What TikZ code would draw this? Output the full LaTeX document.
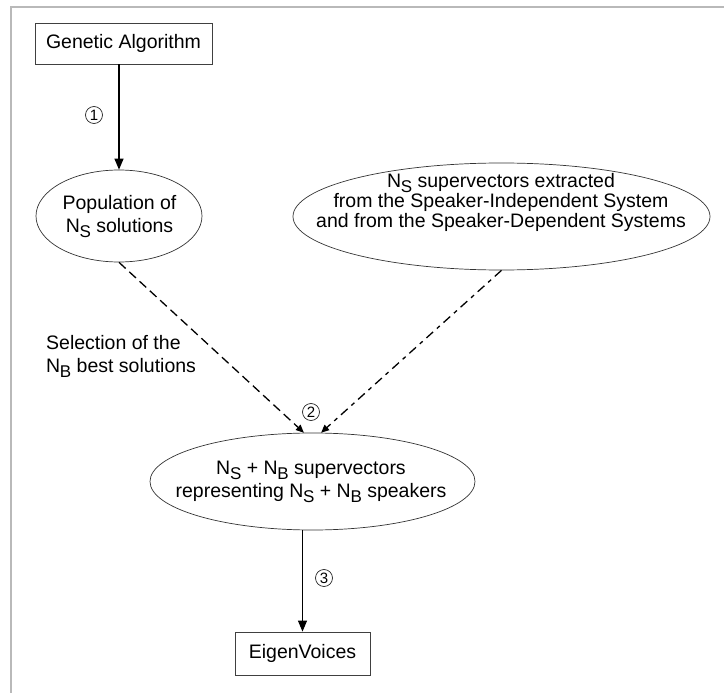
\documentclass[tikz,border=0pt]{standalone}
\usepackage{fontspec}
\setmainfont{Liberation Sans}
\usetikzlibrary{shapes.geometric,arrows.meta}
\newcommand\Nsb[1]{N\kern-0.3pt\raisebox{-5pt}{\fontsize{17}{17}\selectfont #1}}
\tikzset{
  txt/.style={font=\fontsize{19.5}{23}\selectfont, inner sep=0pt, align=center},
  boxnode/.style={draw=black!75, line width=0.8pt, inner sep=0pt},
  ell/.style={ellipse, draw=black!80, line width=0.7pt, inner sep=0pt},
  num/.style={circle, draw=black!85, line width=0.7pt, minimum size=17pt, inner sep=0pt, font=\fontsize{15}{15}\selectfont},
  solidarrow/.style={line width=1.1pt, -{Triangle[length=11pt,width=9pt]}},
  dasharrow/.style={line width=1.3pt, -{Triangle[length=8pt,width=7pt]}}
}
\begin{document}
\begin{tikzpicture}[x=1pt,y=-1pt]
\useasboundingbox (0,0) rectangle (724,693);
% frame
\draw[gray!55, line width=1.6pt] (11,693) -- (11,7) -- (724,7);
% nodes
\node[boxnode, minimum width=177pt, minimum height=41pt] (ga) at (123.5,43.5) {};
\node[txt] (gatxt) at (123.5,43.5) {Genetic Algorithm};
\node[ell, minimum width=166pt, minimum height=92pt] (pop) at (119,216) {};
\node[txt] (poptxt) at (119.5,216.5) {Population of\\\Nsb{S} solutions};
\node[ell, minimum width=417pt, minimum height=107pt] (big) at (501.5,216.5) {};
\node[txt, font=\fontsize{19.5}{20}\selectfont] (bigtxt) at (501,202) {\Nsb{S} supervectors extracted\\from the Speaker-Independent System\\and from the Speaker-Dependent Systems};
\node[ell, minimum width=325pt, minimum height=97pt] (bot) at (312.5,481.5) {};
\node[txt] (bottxt) at (311,481.5) {\Nsb{S} + \Nsb{B} supervectors\\representing \Nsb{S} + \Nsb{B} speakers};
\node[boxnode, minimum width=135pt, minimum height=43pt] (ev) at (302.5,653.5) {};
\node[txt] (evtxt) at (302.5,653.5) {EigenVoices};
\node[txt, align=left, anchor=west] (sel) at (46,356.5) {Selection of the\\\Nsb{B} best solutions};
% numbers
\node[num] (n1) at (94,115) {1};
\node[num] (n2) at (311,412) {2};
\node[num] (n3) at (324,578) {3};
% connectors
\draw[solidarrow] (pop.north |- ga.south) -- (pop.north);
\draw[dasharrow, dash pattern=on 9pt off 5pt] (pop.south) -- (bot.100);
\draw[dasharrow, dash pattern=on 9pt off 5pt on 4pt off 5pt] (big.south) -- (bot.80);
\draw[solidarrow] (ev.north |- bot.south) -- (ev.north);
\end{tikzpicture}
\end{document}
